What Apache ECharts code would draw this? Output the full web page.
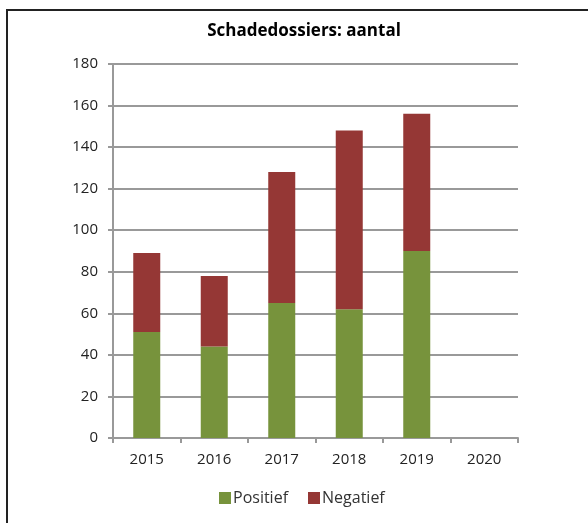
<!DOCTYPE html>
<html>
<head>
<meta charset="utf-8">
<script src="https://cdn.jsdelivr.net/npm/echarts@6/dist/echarts.min.js"></script>
<style>
  html, body { margin: 0; padding: 0; background: #fff; }
  #frame {
    position: absolute; left: 6px; top: 9px; width: 582px; height: 514px;
    border-left: 2px solid #222; border-top: 2px solid #222;
  }
  #chart { position: absolute; left: 0; top: 0; width: 588px; height: 523px; }
</style>
</head>
<body>
<div id="frame"></div>
<div id="chart"></div>
<script>
const years = ["2015", "2016", "2017", "2018", "2019", "2020"];
const positief = [51, 44, 65, 62, 90, null];
const negatief = [38, 34, 63, 86, 66, null];
const yTicks = { min: 0, max: 180, interval: 20 };

const chart = echarts.init(document.getElementById("chart"));
const fontFamily = "'Open Sans', 'Noto Sans', sans-serif";

chart.setOption({
  animation: false,
  textStyle: { fontFamily: fontFamily },
  title: {
    text: "Schadedossiers: aantal",
    left: 299,
    textAlign: "center",
    top: 18,
    textStyle: { fontSize: 17, fontWeight: "bold", color: "#000", fontFamily: fontFamily }
  },
  legend: {
    bottom: 12,
    left: 214,
    itemWidth: 12,
    itemHeight: 12,
    itemGap: 20,
    icon: "rect",
    textStyle: { fontSize: 16, color: "#333", padding: [0, 0, 0, -3] },
    data: ["Positief", "Negatief"]
  },
  grid: { left: 113, right: 70, top: 64, bottom: 85 },
  xAxis: {
    type: "category",
    data: years,
    axisLine: { lineStyle: { color: "#999", width: 2 } },
    axisTick: { show: true, length: 5, lineStyle: { color: "#999", width: 2 } },
    axisLabel: { fontSize: 15, color: "#222", margin: 14 }
  },
  yAxis: {
    type: "value",
    min: yTicks.min,
    max: yTicks.max,
    interval: yTicks.interval,
    axisLine: { show: true, lineStyle: { color: "#999", width: 2 } },
    axisTick: { show: true, length: 5, lineStyle: { color: "#999", width: 2 } },
    splitLine: { lineStyle: { color: "#999", width: 2 } },
    axisLabel: { fontSize: 15, color: "#222", margin: 15 }
  },
  series: [
    {
      name: "Positief",
      type: "bar",
      stack: "total",
      barWidth: "40%",
      data: positief,
      itemStyle: { color: "#77933c" }
    },
    {
      name: "Negatief",
      type: "bar",
      stack: "total",
      barWidth: "40%",
      data: negatief,
      itemStyle: { color: "#953735" }
    }
  ]
});
</script>
</body>
</html>
